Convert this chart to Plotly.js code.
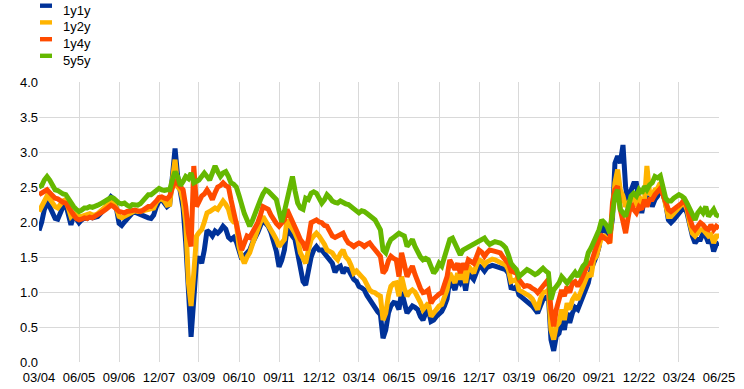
<!DOCTYPE html>
<html>
<head>
<meta charset="utf-8">
<script src="https://cdn.plot.ly/plotly-3.0.1.min.js"></script>
<style>
  html, body { margin: 0; padding: 0; background: #ffffff; }
  #chart { width: 744px; height: 389px; }
</style>
</head>
<body>
<div id="chart"></div>
<script>
// Monthly observations, March 2004 to June 2025
const seriesNames = ['1y1y', '1y2y', '1y4y', '5y5y'];
const seriesColors = ['#003299', '#FFB400', '#FF4B00', '#65B800'];

const y1y1 = [
  1.88, 2.0, 2.18, 2.27, 2.22, 2.12, 2.05, 2.04, 2.12, 2.22,
  2.25, 2.05, 1.96, 2.1, 2.04, 1.99, 2.03, 2.06, 2.05, 2.08, 2.06, 2.07,
  2.08, 2.12, 2.15, 2.2, 2.3, 2.36, 2.33, 2.2, 1.98, 1.95, 2.0, 2.05,
  2.1, 2.13, 2.14, 2.12, 2.12, 2.1, 2.07, 2.06, 2.05, 2.1, 2.22, 2.3,
  2.32, 2.28, 2.22, 2.25, 2.7, 3.05, 2.65, 2.46, 2.2, 1.7, 0.85, 0.36,
  0.9, 1.45, 1.5, 1.41, 1.6, 1.88, 1.85, 1.8, 1.87, 1.84, 1.88, 1.94,
  1.9, 1.78, 1.75, 1.78, 1.72, 1.56, 1.47, 1.52, 1.55, 1.6, 1.7, 1.76,
  1.85, 1.95, 2.03, 1.98, 1.94, 1.85, 1.72, 1.58, 1.36, 1.45, 1.6, 1.9,
  1.85, 1.8, 1.75, 1.55, 1.3, 1.15, 1.1, 1.35, 1.5, 1.6, 1.65, 1.6,
  1.6, 1.55, 1.5, 1.45, 1.41, 1.28, 1.35, 1.37, 1.27, 1.33, 1.32, 1.25,
  1.18, 1.15, 1.08, 1.06, 1.03, 0.95, 0.89, 0.82, 0.75, 0.72, 0.68, 0.34,
  0.46, 0.7, 0.8, 0.85, 0.84, 0.75, 1.0, 0.85, 0.7, 0.75, 0.8, 0.78,
  0.75, 0.65, 0.6, 0.7, 0.75, 0.58, 0.6, 0.65, 0.7, 0.72, 0.8, 0.9,
  1.18, 1.1, 1.03, 1.18, 1.13, 1.22, 1.02, 1.27, 1.22, 1.18, 1.28, 1.37,
  1.35, 1.3, 1.35, 1.37, 1.38, 1.37, 1.36, 1.34, 1.33, 1.32, 1.27, 1.06,
  1.05, 1.08, 0.96, 0.93, 0.89, 0.87, 0.84, 0.8, 0.75, 0.7, 0.8, 0.89,
  0.92, 0.94, 0.32, 0.16, 0.37, 0.41, 0.6, 0.46, 0.7, 0.56, 0.7, 0.78,
  0.75, 0.85, 0.94, 1.05, 1.13, 1.32, 1.41, 1.51, 1.65, 1.94, 1.89, 1.84,
  1.8, 2.05, 2.84, 2.94, 2.84, 3.1, 2.5, 2.25, 2.45, 2.55, 2.55, 2.3,
  2.13, 2.32, 2.27, 2.37, 2.22, 2.32, 2.37, 2.51, 2.41, 2.27, 2.03, 1.99,
  2.03, 2.08, 2.13, 2.18, 2.22, 2.13, 1.94, 1.8, 1.7, 1.75, 1.75, 1.84,
  1.8, 1.7, 1.75, 1.58, 1.68, 1.7
];

const y1y2 = [
  2.15, 2.22, 2.32, 2.37, 2.33, 2.27, 2.22, 2.2, 2.26, 2.3,
  2.32, 2.2, 2.08, 2.12, 2.1, 2.08, 2.08, 2.1, 2.1, 2.12, 2.1, 2.1,
  2.12, 2.15, 2.18, 2.22, 2.26, 2.28, 2.27, 2.2, 2.08, 2.06, 2.08, 2.1,
  2.12, 2.15, 2.16, 2.15, 2.15, 2.16, 2.17, 2.18, 2.18, 2.2, 2.28, 2.32,
  2.33, 2.3, 2.24, 2.25, 2.6, 2.89, 2.5, 2.46, 2.3, 1.99, 1.13, 0.8,
  1.27, 1.8, 1.85, 1.89, 2.0, 2.13, 2.15, 2.18, 2.2, 2.18, 2.25, 2.3,
  2.25, 2.18, 2.05, 2.0, 1.99, 1.65, 1.5, 1.41, 1.5, 1.56, 1.68, 1.8,
  1.92, 2.0, 2.08, 2.02, 1.94, 1.9, 1.82, 1.75, 1.65, 1.7, 1.75, 2.03,
  1.95, 1.9, 1.84, 1.75, 1.56, 1.48, 1.41, 1.6, 1.75, 1.8, 1.84, 1.8,
  1.75, 1.68, 1.6, 1.58, 1.56, 1.5, 1.46, 1.55, 1.6, 1.5, 1.46, 1.38,
  1.27, 1.3, 1.27, 1.22, 1.18, 1.1, 1.03, 1.0, 0.99, 0.96, 0.94, 0.6,
  0.7, 0.95, 1.08, 1.12, 1.13, 0.94, 1.22, 1.05, 0.94, 1.0, 1.03, 1.0,
  0.94, 0.85, 0.75, 0.8, 0.84, 0.65, 0.7, 0.75, 0.8, 0.82, 0.92, 1.03,
  1.27, 1.2, 1.13, 1.27, 1.18, 1.32, 1.13, 1.37, 1.32, 1.27, 1.38, 1.46,
  1.44, 1.39, 1.43, 1.46, 1.47, 1.46, 1.44, 1.41, 1.4, 1.39, 1.32, 1.15,
  1.16, 1.18, 1.03, 1.01, 0.99, 0.97, 0.94, 0.9, 0.84, 0.75, 0.9, 0.99,
  1.0, 1.03, 0.46, 0.32, 0.51, 0.56, 0.75, 0.6, 0.84, 0.75, 0.89, 0.95,
  0.89, 1.0, 1.08, 1.18, 1.27, 1.22, 1.46, 1.51, 1.7, 1.8, 1.8, 1.75,
  1.7, 2.13, 2.56, 2.75, 2.46, 2.37, 2.22, 2.27, 2.32, 2.37, 2.22, 2.37,
  2.27, 2.3, 2.8, 2.41, 2.37, 2.46, 2.48, 2.56, 2.41, 2.22, 2.08, 2.08,
  2.13, 2.18, 2.2, 2.25, 2.27, 2.18, 1.99, 1.84, 1.8, 1.84, 1.89, 1.89,
  1.84, 1.8, 1.82, 1.7, 1.8, 1.8
];

const y1y4 = [
  2.39, 2.42, 2.45, 2.46, 2.42, 2.38, 2.34, 2.33, 2.3, 2.28,
  2.27, 2.2, 2.15, 2.1, 2.05, 2.03, 2.04, 2.06, 2.05, 2.07, 2.06, 2.08,
  2.1, 2.12, 2.15, 2.18, 2.22, 2.24, 2.22, 2.18, 2.15, 2.14, 2.13, 2.15,
  2.16, 2.17, 2.17, 2.16, 2.15, 2.17, 2.2, 2.22, 2.22, 2.25, 2.3, 2.35,
  2.36, 2.34, 2.33, 2.37, 2.5, 2.6, 2.55, 2.5, 2.46, 2.22, 1.84, 1.65,
  2.8, 2.22, 2.3, 2.37, 2.4, 2.46, 2.4, 2.32, 2.42, 2.5, 2.52, 2.56,
  2.52, 2.5, 2.32, 2.15, 2.03, 1.8, 1.6, 1.7, 1.8, 1.78, 1.84, 1.92,
  1.99, 2.1, 2.22, 2.2, 2.18, 2.1, 2.03, 1.98, 1.94, 1.98, 2.03, 2.18,
  2.1, 2.03, 1.95, 1.84, 1.75, 1.7, 1.6, 1.75, 1.99, 2.02, 2.03, 2.0,
  1.99, 1.95, 1.94, 1.87, 1.8, 1.78, 1.8, 1.82, 1.84, 1.76, 1.7, 1.68,
  1.65, 1.68, 1.7, 1.68, 1.65, 1.68, 1.7, 1.65, 1.6, 1.55, 1.51, 1.27,
  1.32, 1.45, 1.51, 1.48, 1.46, 1.22, 1.56, 1.4, 1.22, 1.3, 1.37, 1.25,
  1.13, 1.05, 0.99, 1.0, 1.03, 0.84, 0.9, 0.94, 0.97, 0.99, 1.1, 1.22,
  1.46, 1.38, 1.32, 1.41, 1.27, 1.41, 1.32, 1.46, 1.44, 1.41, 1.5, 1.6,
  1.57, 1.51, 1.56, 1.6, 1.59, 1.58, 1.57, 1.56, 1.5, 1.46, 1.41, 1.3,
  1.28, 1.27, 1.18, 1.12, 1.08, 1.09, 1.08, 1.05, 1.03, 0.99, 1.04, 1.08,
  1.12, 1.18, 0.75, 0.51, 0.75, 0.89, 1.03, 0.94, 1.08, 0.99, 1.13, 1.15,
  1.08, 1.15, 1.22, 1.3, 1.41, 1.41, 1.56, 1.65, 1.75, 1.8, 1.77, 1.75,
  1.7, 2.27, 2.46, 2.51, 2.18, 2.03, 1.84, 2.08, 2.27, 2.18, 2.13, 2.22,
  2.18, 2.32, 2.22, 2.32, 2.32, 2.39, 2.44, 2.48, 2.39, 2.3, 2.18, 2.15,
  2.18, 2.22, 2.25, 2.27, 2.32, 2.22, 2.06, 1.94, 1.89, 1.94, 1.99, 1.96,
  1.91, 1.89, 1.96, 1.89, 1.94, 1.91
];

const y5y5 = [
  2.5, 2.52, 2.6, 2.65, 2.6, 2.52, 2.46, 2.45, 2.42, 2.4,
  2.39, 2.32, 2.27, 2.22, 2.18, 2.15, 2.17, 2.2, 2.2, 2.22, 2.21, 2.22,
  2.24, 2.26, 2.28, 2.3, 2.33, 2.35, 2.34, 2.3, 2.27, 2.26, 2.27, 2.24,
  2.22, 2.25, 2.25, 2.24, 2.26, 2.3, 2.36, 2.39, 2.39, 2.42, 2.45, 2.48,
  2.46, 2.45, 2.46, 2.46, 2.6, 2.72, 2.65, 2.52, 2.58, 2.65, 2.62, 2.7,
  2.56, 2.58, 2.6, 2.65, 2.7, 2.65, 2.6, 2.7, 2.8, 2.72, 2.65, 2.7,
  2.72, 2.65, 2.56, 2.54, 2.5, 2.38, 2.22, 2.12, 2.03, 1.94, 2.02, 2.13,
  2.22, 2.32, 2.4, 2.46, 2.44, 2.41, 2.36, 2.32, 2.15, 2.0, 2.15, 2.32,
  2.5, 2.65, 2.45, 2.27, 2.2, 2.18, 2.34, 2.32, 2.41, 2.43, 2.41, 2.35,
  2.27, 2.32, 2.39, 2.35, 2.3, 2.28, 2.27, 2.3, 2.27, 2.26, 2.25, 2.22,
  2.18, 2.16, 2.13, 2.16, 2.15, 2.12, 2.08, 2.06, 2.03, 1.96, 1.89, 1.6,
  1.56, 1.68, 1.75, 1.78, 1.8, 1.84, 1.82, 1.8, 1.65, 1.7, 1.75, 1.65,
  1.56, 1.5, 1.46, 1.48, 1.46, 1.35, 1.27, 1.32, 1.41, 1.37, 1.5, 1.6,
  1.75, 1.77, 1.68, 1.6, 1.53, 1.6, 1.62, 1.65, 1.66, 1.68, 1.7, 1.72,
  1.75, 1.77, 1.72, 1.68, 1.7, 1.72, 1.71, 1.7, 1.67, 1.63, 1.53, 1.41,
  1.36, 1.32, 1.22, 1.25, 1.27, 1.32, 1.3, 1.27, 1.25, 1.27, 1.3, 1.34,
  1.3, 1.27, 0.89, 1.03, 1.08, 1.13, 1.22, 1.18, 1.13, 1.18, 1.22, 1.28,
  1.22, 1.32, 1.37, 1.41, 1.56, 1.63, 1.7, 1.8, 1.89, 2.03, 1.99, 1.94,
  1.84, 2.18, 2.37, 2.46, 2.18, 2.13, 2.08, 2.22, 2.37, 2.41, 2.37, 2.46,
  2.41, 2.51, 2.46, 2.53, 2.56, 2.65, 2.63, 2.66, 2.46, 2.34, 2.3, 2.3,
  2.34, 2.37, 2.39, 2.37, 2.34, 2.27, 2.18, 2.08, 2.03, 2.13, 2.18, 2.13,
  2.22, 2.08, 2.13, 2.18, 2.1, 2.08
];

const tickLabels = ['03/04', '06/05', '09/06', '12/07', '03/09', '06/10', '09/11', '12/12',
  '03/14', '06/15', '09/16', '12/17', '03/19', '06/20', '09/21', '12/22', '03/24', '06/25'];

// month dates starting March 2004
const firstYear = 2004, firstMonth = 3;
const dates = y1y1.map(function (_, i) {
  const t = (firstMonth - 1) + i;
  const yr = firstYear + Math.floor(t / 12);
  const mo = (t % 12) + 1;
  return yr + '-' + (mo < 10 ? '0' + mo : mo) + '-01';
});
const tickVals = tickLabels.map(function (l) {
  const p = l.split('/');
  return '20' + p[1] + '-' + p[0] + '-01';
});

const values = [y1y1, y1y2, y1y4, y5y5];
const traces = values.map(function (v, k) {
  return {
    type: 'scatter', mode: 'lines', x: dates, y: v,
    name: seriesNames[k], showlegend: false,
    line: { color: seriesColors[k], width: 5, shape: 'linear' },
    hoverinfo: 'x+y+name'
  };
});

const font = { family: 'Liberation Sans, Arial, sans-serif', size: 13, color: '#000000' };

// plot-area geometry (pixels) used to place the hand-drawn legend
const M = { l: 39, r: 25, t: 82, b: 27 };
const W = 744, H = 389;
const plotW = W - M.l - M.r, plotH = H - M.t - M.b;
const px2x = function (px) { return (px - M.l) / plotW; };
const py2y = function (py) { return (H - M.b - py) / plotH; };

const legendKeyY = [5.7, 22.4, 39.2, 55.8];
const shapes = [], annotations = [];
seriesNames.forEach(function (name, k) {
  const cy = legendKeyY[k];
  shapes.push({
    type: 'rect', xref: 'paper', yref: 'paper',
    x0: px2x(40), x1: px2x(52), y0: py2y(cy - 2.2), y1: py2y(cy + 2.2),
    fillcolor: seriesColors[k], line: { width: 0 }, layer: 'above'
  });
  annotations.push({
    xref: 'paper', yref: 'paper', x: px2x(61), y: py2y(cy + 4.3),
    xanchor: 'left', yanchor: 'middle', showarrow: false,
    text: name, font: font
  });
});

const layout = {
  width: W, height: H,
  margin: { l: M.l, r: M.r, t: M.t, b: M.b, pad: 0, autoexpand: false },
  paper_bgcolor: '#ffffff', plot_bgcolor: '#ffffff',
  font: font,
  showlegend: false,
  shapes: shapes,
  annotations: annotations,
  xaxis: {
    type: 'date',
    range: ['2004-03-01', '2025-06-01'],
    tickmode: 'array', tickvals: tickVals, ticktext: tickLabels,
    showgrid: true, gridcolor: '#d9d9d9', gridwidth: 1,
    zeroline: false, showline: false,
    ticks: 'outside', ticklen: 3, tickcolor: 'rgba(0,0,0,0)',
    tickfont: font, fixedrange: true, automargin: false
  },
  yaxis: {
    range: [0, 4], dtick: 0.5, tick0: 0, tickformat: '.1f',
    showgrid: true, gridcolor: '#d9d9d9', gridwidth: 1,
    zeroline: false, showline: false, ticks: '',
    tickfont: font, fixedrange: true, automargin: false
  }
};

Plotly.newPlot('chart', traces, layout, { displayModeBar: false, staticPlot: true });
</script>
</body>
</html>
